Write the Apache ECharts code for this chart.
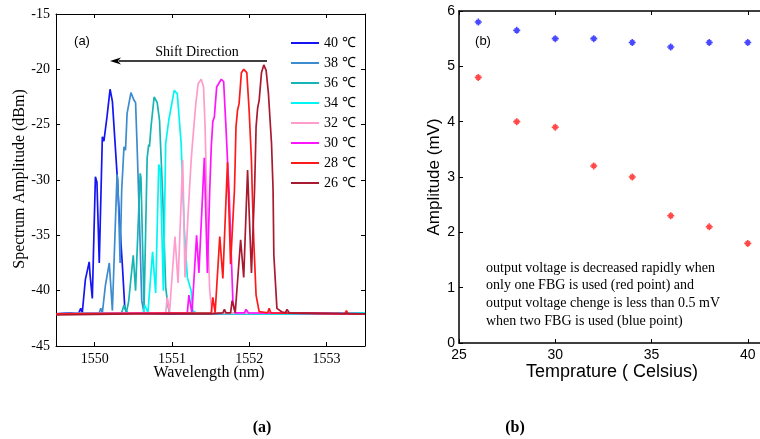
<!DOCTYPE html>
<html>
<head>
<meta charset="utf-8">
<script src="https://cdn.jsdelivr.net/npm/echarts@6/dist/echarts.min.js"></script>
<style>
html, body { margin: 0; padding: 0; background: #fff; }
#main { width: 760px; height: 439px; }
</style>
</head>
<body>
<div id="main"></div>
<script>
// panel (a): spectra, [wavelength nm, dBm]
var names = ["40 ℃", "38 ℃", "36 ℃", "34 ℃", "32 ℃", "30 ℃", "28 ℃", "26 ℃"];
var colors = ["#1414f5", "#3c8ccf", "#16b4b4", "#00f5f5", "#ff9ccc", "#ff14ff", "#ff1a1a", "#a81a30"];

var s40 = [[1549.5,-42.1],[1549.69,-42.0],[1549.79,-42.1],[1549.82,-41.6],[1549.84,-42.0],[1549.88,-39.0],[1549.93,-37.4],[1549.94,-38.5],[1549.97,-40.7],[1550.01,-29.7],[1550.03,-30.2],[1550.06,-37.5],[1550.10,-26.1],[1550.12,-26.5],[1550.16,-24.3],[1550.20,-21.8],[1550.23,-22.9],[1550.25,-23.0],[1550.29,-29.4],[1550.32,-33.3],[1550.36,-37.8],[1550.39,-41.5],[1550.42,-42.0],[1551.0,-42.1],[1552.0,-42.0],[1553.5,-42.1]];
var s38 = [[1549.5,-42.1],[1550.06,-42.0],[1550.08,-41.6],[1550.10,-42.0],[1550.14,-39.5],[1550.19,-37.5],[1550.23,-41.8],[1550.29,-29.5],[1550.30,-30.0],[1550.33,-37.5],[1550.35,-31.0],[1550.38,-27.0],[1550.40,-27.3],[1550.42,-24.0],[1550.47,-22.1],[1550.51,-22.8],[1550.53,-23.0],[1550.55,-27.0],[1550.58,-33.6],[1550.61,-40.9],[1550.64,-42.0],[1551.5,-42.1],[1553.5,-42.0]];
var s36 = [[1549.5,-42.1],[1550.35,-42.0],[1550.38,-41.3],[1550.41,-42.0],[1550.44,-41.0],[1550.50,-36.8],[1550.53,-40.0],[1550.59,-29.4],[1550.60,-29.8],[1550.64,-41.5],[1550.68,-28.0],[1550.70,-26.8],[1550.71,-27.0],[1550.73,-25.2],[1550.77,-22.5],[1550.81,-23.0],[1550.84,-24.6],[1550.88,-31.2],[1550.92,-39.7],[1550.95,-41.4],[1550.97,-42.0],[1552.0,-42.1],[1553.5,-42.1]];
var s34 = [[1549.5,-42.1],[1550.63,-42.0],[1550.65,-41.3],[1550.69,-42.0],[1550.75,-36.5],[1550.79,-40.2],[1550.83,-28.6],[1550.85,-29.0],[1550.89,-40.0],[1550.92,-26.7],[1550.96,-24.6],[1551.03,-21.9],[1551.07,-22.2],[1551.12,-26.7],[1551.16,-34.3],[1551.20,-38.8],[1551.25,-40.0],[1551.27,-41.8],[1551.31,-42.0],[1552.5,-42.1],[1553.5,-42.0]];
var s32 = [[1549.5,-42.1],[1550.92,-42.0],[1550.94,-40.6],[1550.97,-41.9],[1551.04,-35.1],[1551.08,-39.3],[1551.14,-28.2],[1551.17,-38.8],[1551.21,-33.0],[1551.25,-28.2],[1551.27,-26.4],[1551.31,-23.1],[1551.34,-21.3],[1551.38,-20.9],[1551.41,-21.6],[1551.43,-25.2],[1551.44,-28.2],[1551.45,-30.9],[1551.47,-36.0],[1551.49,-40.0],[1551.52,-42.0],[1552.5,-42.0],[1553.5,-42.1]];
var s30 = [[1549.5,-42.1],[1551.20,-42.0],[1551.22,-40.4],[1551.26,-42.0],[1551.32,-35.0],[1551.35,-38.4],[1551.42,-28.0],[1551.46,-38.4],[1551.49,-30.9],[1551.51,-27.0],[1551.53,-24.7],[1551.55,-24.3],[1551.58,-21.6],[1551.64,-20.9],[1551.67,-21.1],[1551.70,-25.2],[1551.72,-28.2],[1551.74,-30.9],[1551.77,-37.0],[1551.79,-41.0],[1551.82,-42.0],[1551.94,-42.0],[1551.96,-41.7],[1551.99,-42.0],[1553.5,-42.1]];
var s28 = [[1549.5,-42.1],[1551.51,-42.0],[1551.53,-40.6],[1551.56,-42.0],[1551.62,-35.1],[1551.66,-38.9],[1551.72,-28.4],[1551.76,-37.6],[1551.81,-30.9],[1551.82,-28.2],[1551.83,-25.2],[1551.85,-23.7],[1551.87,-23.1],[1551.90,-20.3],[1551.93,-20.0],[1551.97,-20.3],[1552.00,-23.7],[1552.03,-28.2],[1552.04,-30.9],[1552.06,-35.5],[1552.09,-40.4],[1552.13,-41.9],[1552.24,-42.0],[1552.26,-41.6],[1552.28,-42.0],[1553.24,-42.1],[1553.26,-41.8],[1553.28,-42.1],[1553.5,-42.1]];
var s26 = [[1549.5,-42.2],[1550.5,-42.1],[1551.5,-42.1],[1551.66,-42.0],[1551.68,-41.7],[1551.70,-42.0],[1551.76,-42.0],[1551.78,-40.9],[1551.82,-42.0],[1551.89,-35.4],[1551.93,-38.8],[1551.98,-29.1],[1552.03,-38.4],[1552.07,-30.9],[1552.08,-28.2],[1552.09,-25.2],[1552.11,-23.5],[1552.13,-22.8],[1552.16,-20.3],[1552.19,-19.6],[1552.22,-20.1],[1552.25,-22.2],[1552.29,-26.7],[1552.31,-30.9],[1552.32,-36.8],[1552.36,-41.6],[1552.42,-41.9],[1552.47,-42.0],[1552.49,-41.7],[1552.52,-42.0],[1553.5,-42.1]];
var spectra = [s40, s38, s36, s34, s32, s30, s28, s26];

// panel (b): amplitude vs temperature
var temps = [26, 28, 30, 32, 34, 36, 38, 40];
var twoFbg = [5.8, 5.65, 5.5, 5.5, 5.43, 5.35, 5.43, 5.43];
var oneFbg = [4.8, 4.0, 3.9, 3.2, 3.0, 2.3, 2.1, 1.8];

var wlTicks = [1550, 1551, 1552, 1553];
var serif = "Liberation Serif";
var sans = "Liberation Sans";

var series = [];
for (var i = 0; i < spectra.length; i++) {
	series.push({
		name: names[i],
		type: 'line',
		xAxisIndex: 0,
		yAxisIndex: 0,
		showSymbol: false,
		symbol: 'none',
		color: colors[i],
		lineStyle: { width: 1.7, color: colors[i] },
		data: spectra[i]
	});
}

var star = 'path://M0,-5L0,5M-5,0L5,0M-3,-3L3,3M-3,3L3,-3';
function pts(vals) {
	var out = [];
	for (var k = 0; k < temps.length; k++) out.push([temps[k], vals[k]]);
	return out;
}
series.push({
	type: 'scatter', xAxisIndex: 2, yAxisIndex: 2,
	symbol: star, symbolSize: 7,
	itemStyle: { color: 'none', borderColor: '#1a1aff', borderWidth: 1.6 },
	data: pts(twoFbg)
});
series.push({
	type: 'scatter', xAxisIndex: 2, yAxisIndex: 2,
	symbol: star, symbolSize: 7,
	itemStyle: { color: 'none', borderColor: '#ff1a1a', borderWidth: 1.6 },
	data: pts(oneFbg)
});

function boxAxis(extra) {
	var a = {
		axisLine: { show: true, onZero: false, lineStyle: { color: '#000', width: 1 } },
		axisTick: { show: true, inside: true, length: 4, lineStyle: { color: '#000' } },
		axisLabel: { show: false },
		splitLine: { show: false }
	};
	for (var k in extra) a[k] = extra[k];
	return a;
}

var option = {
	animation: false,
	grid: [
		{ left: 56, top: 14, width: 309, height: 332, outerBoundsMode: 'none' },
		{ left: 459, top: 11, width: 385, height: 332, outerBoundsMode: 'none' }
	],
	legend: {
		data: names,
		orient: 'vertical',
		left: 286,
		top: 31,
		itemWidth: 28,
		itemHeight: 2,
		itemGap: 6,
		icon: 'rect',
		textStyle: { fontFamily: serif, fontSize: 14, color: '#000', lineHeight: 14 }
	},
	xAxis: [
		boxAxis({ gridIndex: 0, type: 'value', min: 1549.5, max: 1553.5, position: 'bottom',
			axisTick: { show: true, inside: true, length: 4, customValues: wlTicks, lineStyle: { color: '#000' } },
			axisLabel: { show: true, customValues: wlTicks, color: '#000', fontFamily: serif, fontSize: 14, margin: 6,
				formatter: function (v) { return String(v); } } }),
		boxAxis({ gridIndex: 0, type: 'value', min: 1549.5, max: 1553.5, position: 'top',
			axisTick: { show: true, inside: true, length: 4, customValues: wlTicks, lineStyle: { color: '#000' } } }),
		boxAxis({ gridIndex: 1, type: 'value', min: 25, max: 45, interval: 5, position: 'bottom',
			axisLine: { show: true, onZero: false, lineStyle: { color: '#000', width: 1.5 } },
			axisLabel: { show: true, color: '#000', fontFamily: sans, fontSize: 14, margin: 5 } }),
		boxAxis({ gridIndex: 1, type: 'value', min: 25, max: 45, interval: 5, position: 'top',
			axisLine: { show: true, onZero: false, lineStyle: { color: '#000', width: 1.5 } } })
	],
	yAxis: [
		boxAxis({ gridIndex: 0, type: 'value', min: -45, max: -15, interval: 5, position: 'left',
			axisLabel: { show: true, color: '#000', fontFamily: serif, fontSize: 14, margin: 6 } }),
		boxAxis({ gridIndex: 0, type: 'value', min: -45, max: -15, interval: 5, position: 'right' }),
		boxAxis({ gridIndex: 1, type: 'value', min: 0, max: 6, interval: 1, position: 'left',
			axisLine: { show: true, onZero: false, lineStyle: { color: '#000', width: 1.5 } },
			axisLabel: { show: true, color: '#000', fontFamily: sans, fontSize: 14, margin: 4 } })
	],
	graphic: [
		{ type: 'text', x: 20, y: 179, rotation: Math.PI / 2,
			style: { text: 'Spectrum Amplitude (dBm)', fontFamily: serif, fontSize: 16, fill: '#000', align: 'center', verticalAlign: 'middle' } },
		{ type: 'text', x: 209, y: 373,
			style: { text: 'Wavelength (nm)', fontFamily: serif, fontSize: 16, fill: '#000', align: 'center', verticalAlign: 'middle' } },
		{ type: 'text', x: 82, y: 41,
			style: { text: '(a)', fontFamily: sans, fontSize: 13, fill: '#000', align: 'center', verticalAlign: 'middle' } },
		{ type: 'text', x: 197, y: 52,
			style: { text: 'Shift Direction', fontFamily: serif, fontSize: 14, fill: '#000', align: 'center', verticalAlign: 'middle' } },
		{ type: 'line', shape: { x1: 119, y1: 61, x2: 267, y2: 61 }, style: { stroke: '#000', lineWidth: 1.3 } },
		{ type: 'polygon', shape: { points: [[110, 61], [121, 57.5], [118, 61], [121, 64.5]] }, style: { fill: '#000' } },
		{ type: 'text', x: 434, y: 177, rotation: Math.PI / 2,
			style: { text: 'Amplitude (mV)', fontFamily: sans, fontSize: 17, fill: '#000', align: 'center', verticalAlign: 'middle' } },
		{ type: 'text', x: 612, y: 372,
			style: { text: 'Temprature ( Celsius)', fontFamily: sans, fontSize: 18, fill: '#000', align: 'center', verticalAlign: 'middle' } },
		{ type: 'text', x: 483, y: 41,
			style: { text: '(b)', fontFamily: sans, fontSize: 13, fill: '#000', align: 'center', verticalAlign: 'middle' } },
		{ type: 'text', x: 486, y: 259,
			style: { text: 'output voltage is decreased rapidly when\nonly one FBG is used (red point) and\noutput voltage chenge is less than 0.5 mV\nwhen two FBG is used (blue point)',
				fontFamily: serif, fontSize: 14, lineHeight: 17.7, fill: '#000', align: 'left', verticalAlign: 'top' } },
		{ type: 'text', x: 262, y: 428,
			style: { text: '(a)', fontFamily: serif, fontSize: 16, fontWeight: 'bold', fill: '#000', align: 'center', verticalAlign: 'middle' } },
		{ type: 'text', x: 515, y: 428,
			style: { text: '(b)', fontFamily: serif, fontSize: 16, fontWeight: 'bold', fill: '#000', align: 'center', verticalAlign: 'middle' } }
	],
	series: series
};

var myChart = echarts.init(document.getElementById('main'));
myChart.setOption(option);
</script>
</body>
</html>
